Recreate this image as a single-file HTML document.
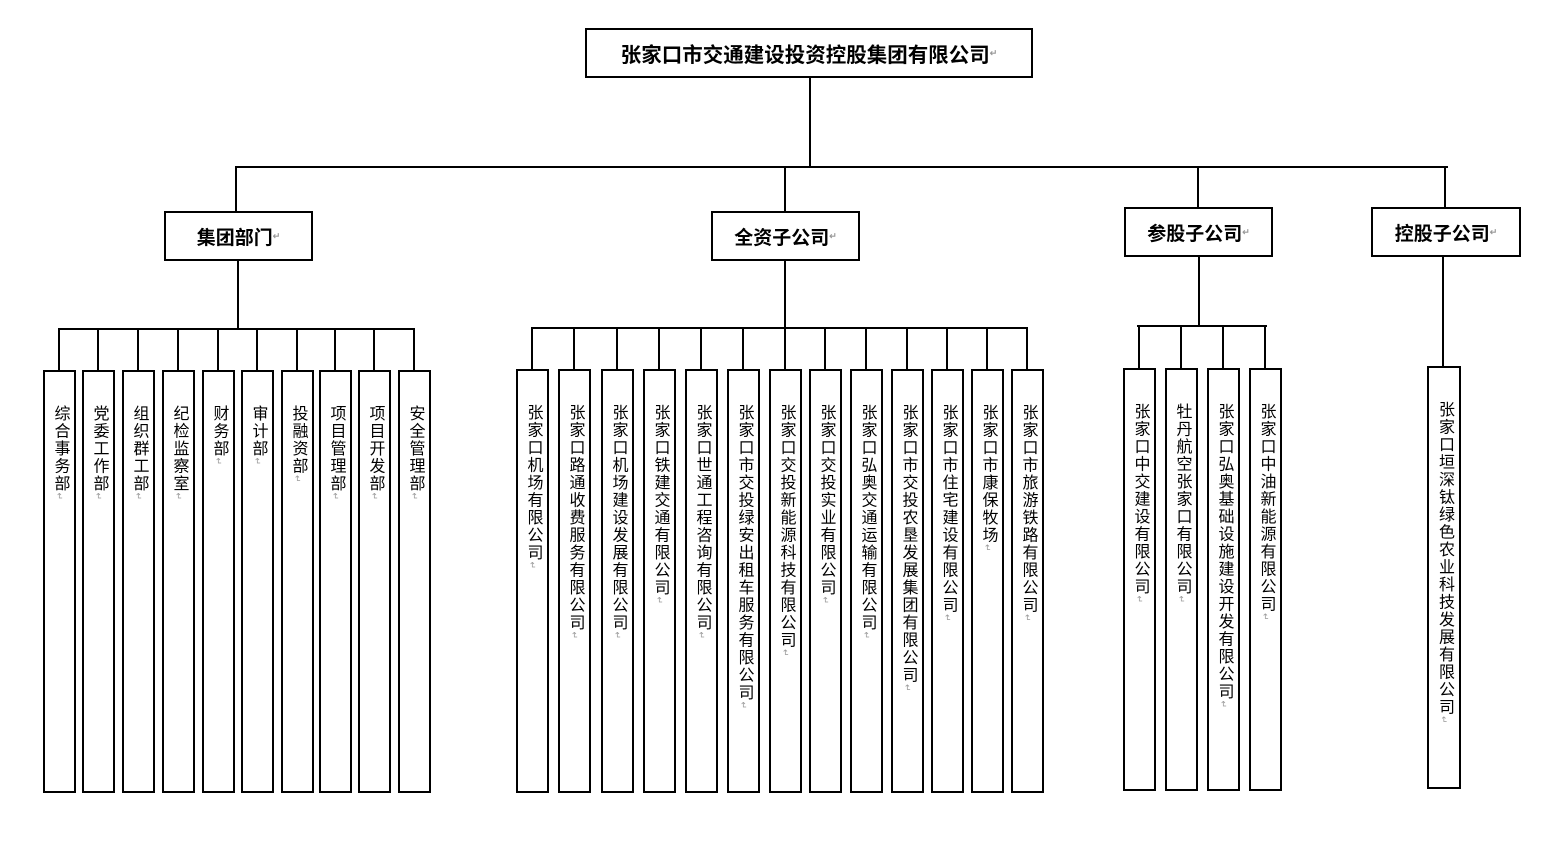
<!DOCTYPE html>
<html><head><meta charset="utf-8"><style>
body{margin:0;width:1550px;height:856px;background:#fff;position:relative;overflow:hidden;font-family:"Liberation Sans","Noto Sans CJK SC",sans-serif;}
.b{position:absolute;border:2px solid #000;box-sizing:border-box;background:#fff;}
.h{position:absolute;background:#000;height:2px;}
.v{position:absolute;background:#000;width:2px;}
.t{display:flex;align-items:center;justify-content:center;font-weight:bold;color:#000;}
.c{writing-mode:vertical-rl;font-size:16px;line-height:32px;letter-spacing:1.5px;text-align:start;padding-top:33px;color:#000;}
.m{color:#999;font-size:9px;}
</style></head><body>
<div class="b t" style="left:585px;top:28px;width:448px;height:50px;font-size:20.5px;">张家口市交通建设投资控股集团有限公司<span class="m">↵</span></div>
<div class="v" style="left:809px;top:77px;height:91px"></div>
<div class="h" style="left:235px;top:166px;width:1213px"></div>
<div class="v" style="left:235px;top:166px;height:46px"></div>
<div class="v" style="left:784px;top:166px;height:46px"></div>
<div class="v" style="left:1197px;top:166px;height:42px"></div>
<div class="v" style="left:1444px;top:166px;height:42px"></div>
<div class="b t" style="left:164px;top:211px;width:149px;height:50px;font-size:19px;">集团部门<span class="m">↵</span></div>
<div class="b t" style="left:711px;top:211px;width:149px;height:50px;font-size:19px;">全资子公司<span class="m">↵</span></div>
<div class="b t" style="left:1124px;top:207px;width:149px;height:50px;font-size:19px;">参股子公司<span class="m">↵</span></div>
<div class="b t" style="left:1371px;top:207px;width:150px;height:50px;font-size:19px;">控股子公司<span class="m">↵</span></div>
<div class="v" style="left:237px;top:260px;height:70px"></div>
<div class="h" style="left:58px;top:328px;width:357px"></div>
<div class="v" style="left:784px;top:260px;height:69px"></div>
<div class="h" style="left:531px;top:327px;width:497px"></div>
<div class="v" style="left:1198px;top:256px;height:71px"></div>
<div class="h" style="left:1137px;top:325px;width:130px"></div>
<div class="v" style="left:1442px;top:256px;height:112px"></div>
<div id="boxes"></div>
<script>
var L=[[43,"综合事务部"],[82,"党委工作部"],[122,"组织群工部"],[162,"纪检监察室"],[202,"财务部"],[241,"审计部"],[281,"投融资部"],[319,"项目管理部"],[358,"项目开发部"],[398,"安全管理部"]];
var M=[[516,"张家口机场有限公司"],[558,"张家口路通收费服务有限公司"],[601,"张家口机场建设发展有限公司"],[643,"张家口铁建交通有限公司"],[685,"张家口世通工程咨询有限公司"],[727,"张家口市交投绿安出租车服务有限公司"],[769,"张家口交投新能源科技有限公司"],[809,"张家口交投实业有限公司"],[850,"张家口弘奥交通运输有限公司"],[891,"张家口市交投农垦发展集团有限公司"],[931,"张家口市住宅建设有限公司"],[971,"张家口市康保牧场"],[1011,"张家口市旅游铁路有限公司"]];
var R=[[1123,"张家口中交建设有限公司"],[1165,"牡丹航空张家口有限公司"],[1207,"张家口弘奥基础设施建设开发有限公司"],[1249,"张家口中油新能源有限公司"]];
var h="";
function add(arr,top,bot,lineTop){arr.forEach(function(a){var x=a[0];
h+='<div class="v" style="left:'+(x+15)+'px;top:'+lineTop+'px;height:'+(top-lineTop)+'px"></div>';
h+='<div class="b" style="left:'+x+'px;top:'+top+'px;width:33px;height:'+(bot-top)+'px;display:flex;justify-content:center;"><div class="c">'+a[1]+'<span class="m">↵</span></div></div>';});}
add(L,370,793,329);add(M,369,793,328);add(R,368,791,326);
h+='<div class="b" style="left:1427px;top:366px;width:34px;height:423px;display:flex;justify-content:center;"><div class="c">张家口垣深钛绿色农业科技发展有限公司<span class="m">↵</span></div></div>';
document.getElementById("boxes").innerHTML=h;
</script>
</body></html>
